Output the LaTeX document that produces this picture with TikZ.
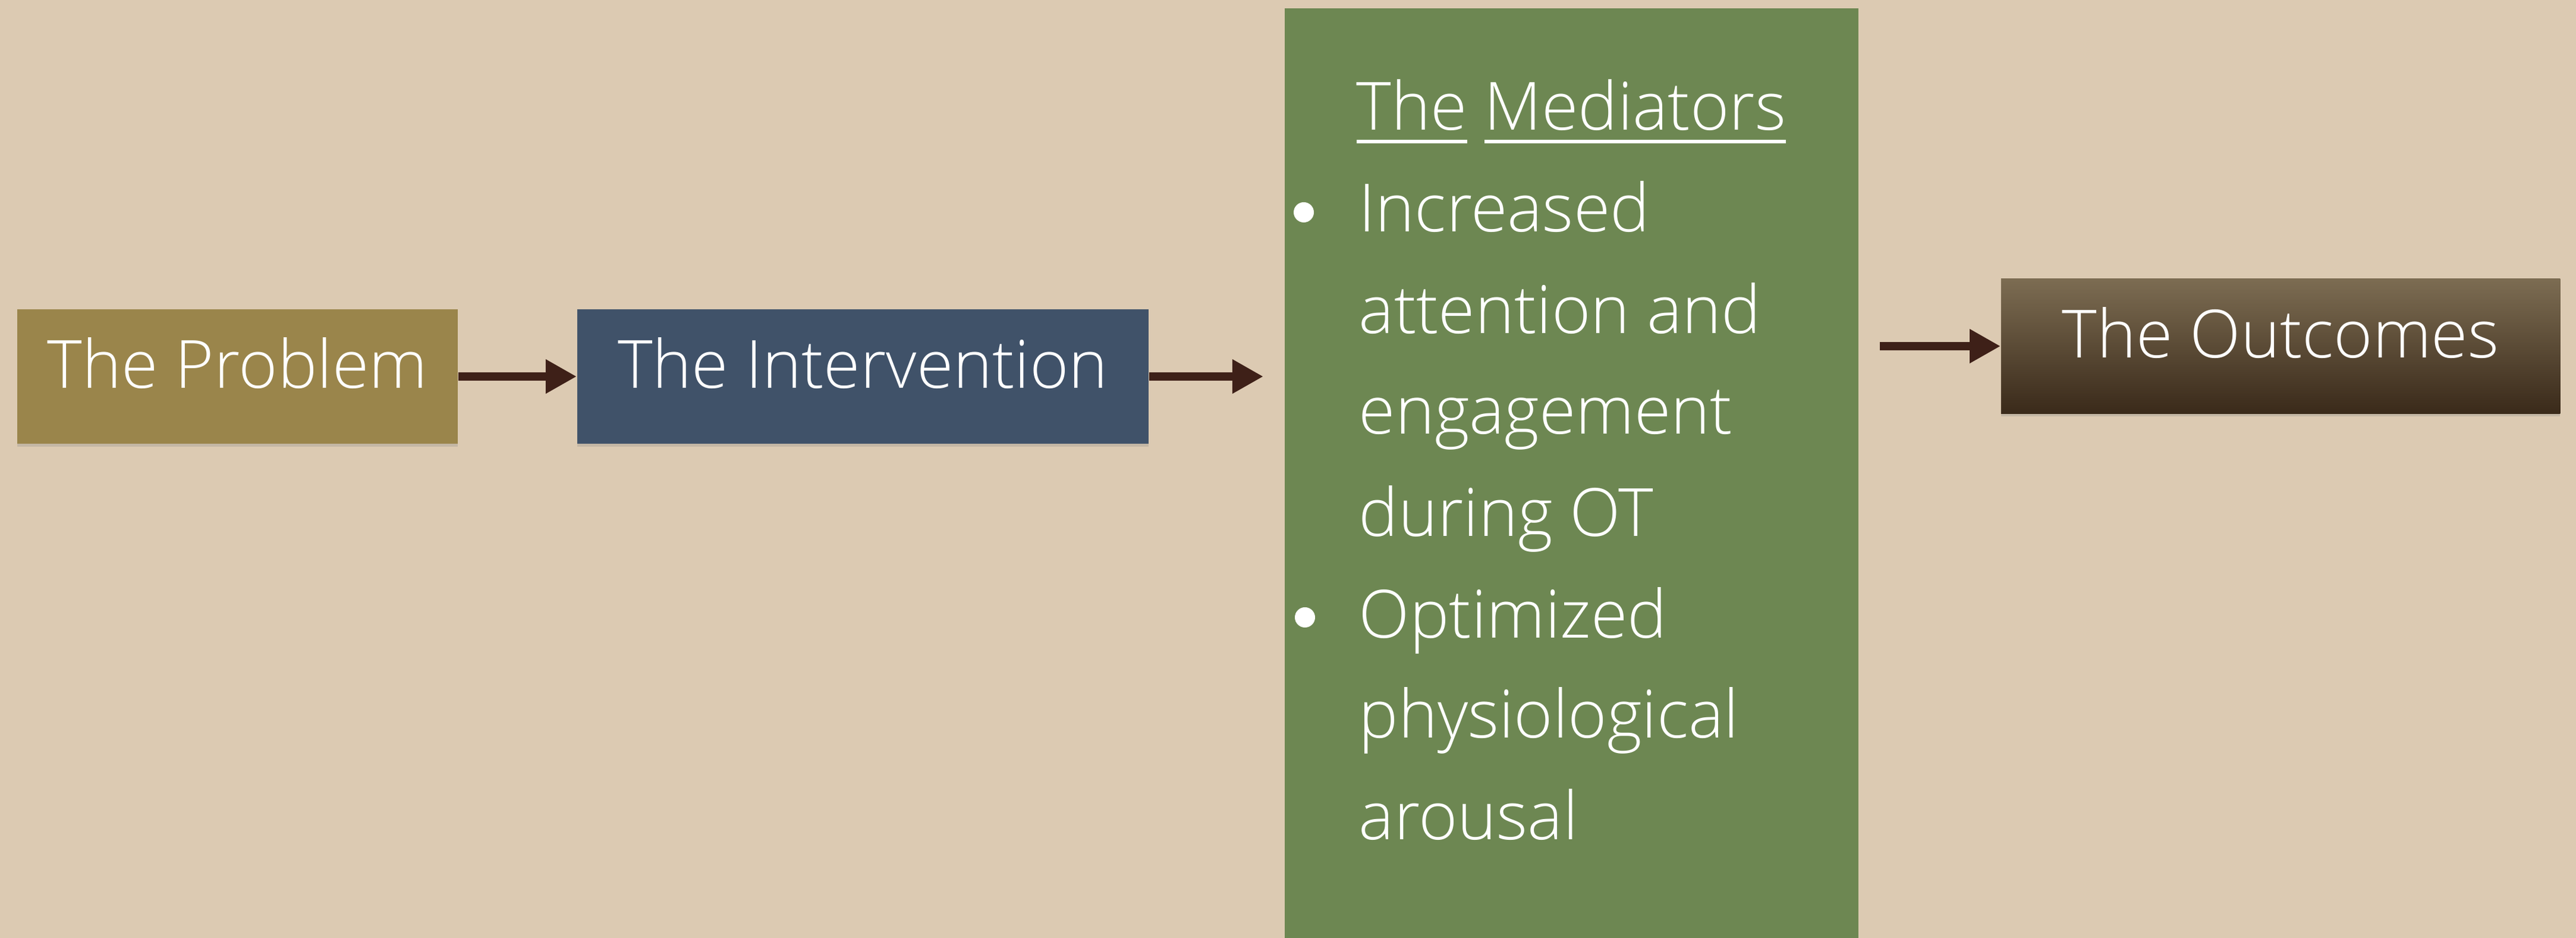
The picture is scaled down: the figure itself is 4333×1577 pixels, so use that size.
\documentclass[tikz,border=0pt]{standalone}
\usepackage{fontspec}
\setmainfont{Open Sans Light}
\usetikzlibrary{arrows.meta,shadows}
\definecolor{parch}{RGB}{220,202,178}
\definecolor{probc}{RGB}{154,133,75}
\definecolor{interc}{RGB}{64,82,105}
\definecolor{medc}{RGB}{109,135,82}
\definecolor{outtop}{RGB}{124,108,82}
\definecolor{outbot}{RGB}{58,42,26}
\definecolor{arrowc}{RGB}{62,32,24}
\newcommand\myul[1]{\leavevmode\vtop{\hbox{#1}\kern4.2pt\hrule height 1.7pt}}
\begin{document}
\begin{tikzpicture}[x=0.01cm,y=0.01cm,
  boxshadow/.style={drop shadow={shadow xshift=0pt,shadow yshift=-0.05cm,opacity=0.25}},
  flowbox/.style={rectangle,inner sep=0pt,minimum height=2.26cm,boxshadow},
  boxtext/.style={text=white,inner sep=0pt,anchor=base,font=\fontsize{31.8}{38}\selectfont},
  medtext/.style={text=white,inner sep=0pt,anchor=base west,font=\fontsize{31.8}{38}\selectfont},
  bulletdot/.style={circle,fill=white,inner sep=0pt,minimum size=0.34cm},
  arr/.style={draw=arrowc,line width=0.14cm,-{Triangle[length=0.52cm,width=0.54cm]}}]
\useasboundingbox (0,0) rectangle (4333,1577);
\fill[parch] (0,0) rectangle (4333,1577);
% boxes
\node[flowbox,fill=probc,minimum width=7.41cm] (prob) at (399.5,944) {};
\node[flowbox,fill=interc,minimum width=9.61cm] (inter) at (1451.5,944) {};
\node[rectangle,inner sep=0pt,fill=medc,minimum width=9.65cm,minimum height=15.63cm,boxshadow] (med) at (2643.5,781.5) {};
\node[flowbox,top color=outtop,bottom color=outbot,minimum width=9.40cm] (out) at (3836,995) {};
% box texts
\node[boxtext] (probt) at (399.5,924) {The Problem};
\node[boxtext] (intert) at (1451.5,924) {The Intervention};
\node[boxtext] (outt) at (3836,975) {The Outcomes};
% mediators
\node[boxtext] (medh) at (2643,1358) {\myul{The} \myul{Mediators}};
\node[bulletdot] (b1) at (2193,1220) {};
\node[medtext] (m1) at (2285,1187) {Increased};
\node[medtext] (m2) at (2285,1016) {attention and};
\node[medtext] (m3) at (2285,847) {engagement};
\node[medtext] (m4) at (2285,675) {during OT};
\node[bulletdot] (b2) at (2195,539) {};
\node[medtext] (m5) at (2285,504) {Optimized};
\node[medtext] (m6) at (2285,336) {physiological};
\node[medtext] (m7) at (2285,165) {arousal};
% arrows
\draw[arr] (prob.east) -- (inter.west);
\draw[arr,shorten >=0.35cm] (inter.east) -- (inter.east -| med.west);
\draw[arr,shorten <=0.35cm] (out.west -| med.east) -- (out.west);
\end{tikzpicture}
\end{document}
